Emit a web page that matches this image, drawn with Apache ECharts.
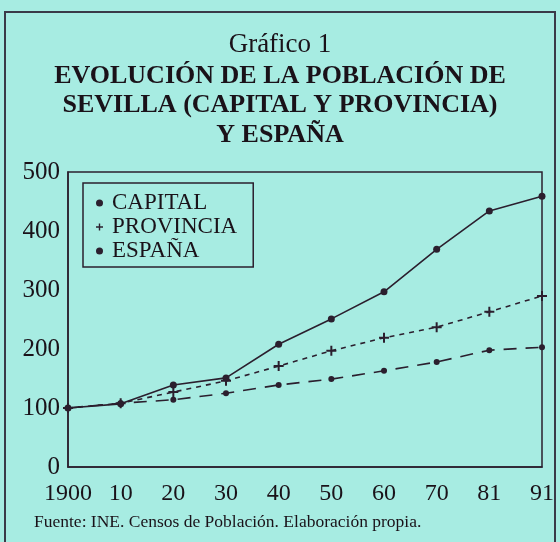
<!DOCTYPE html>
<html>
<head>
<meta charset="utf-8">
<script src="https://cdn.jsdelivr.net/npm/echarts@6/dist/echarts.min.js"></script>
<style>
  html, body { margin: 0; padding: 0; background: #a7ece2; }
  #main { width: 560px; height: 542px; }
</style>
</head>
<body>
<div id="main"></div>
<script>
'use strict'

// años de censo (eje x) y valores índice 1900 = 100
const years = ['1900', '10', '20', '30', '40', '50', '60', '70', '81', '91'];
const capital = [100, 107, 139, 151, 208, 251, 297, 369, 434, 459];
const provincia = [100, 108, 127, 146, 171, 197, 219, 237, 263, 290];
const espana = [100, 108, 114, 125, 139, 149, 163, 178, 198, 203];

const ink = '#2b1f2e';
const textInk = '#1a1219';
const serif = '"Liberation Serif", "DejaVu Serif", serif';
const plus = 'path://M4,0 L6,0 L6,4 L10,4 L10,6 L6,6 L6,10 L4,10 L4,6 L0,6 L0,4 L4,4 Z';

let myChart = echarts.init(document.getElementById('main'));

let boldLine = (text, top) => ({
    text,
    left: 'center',
    top,
    textStyle: { fontFamily: serif, fontSize: 26, fontWeight: 'bold', color: textInk }
});

myChart.setOption({
    backgroundColor: '#a7ece2',
    title: [{
        text: 'Gráfico 1',
        left: 'center',
        top: 26,
        textStyle: { fontFamily: serif, fontSize: 27, fontWeight: 'normal', color: textInk }
    },
    boldLine('EVOLUCIÓN DE LA POBLACIÓN DE', 58),
    boldLine('SEVILLA (CAPITAL Y PROVINCIA)', 87),
    boldLine('Y ESPAÑA', 117),
    {
        text: 'Fuente: INE. Censos de Población. Elaboración propia.',
        left: 29,
        top: 508,
        textStyle: { fontFamily: serif, fontSize: 17.5, fontWeight: 'normal', color: textInk }
    }],
    graphic: [{
        type: 'rect',
        shape: { x: 5, y: 12, width: 550, height: 540 },
        style: { fill: null, stroke: '#3a3a48', lineWidth: 2 },
        silent: true
    }],
    legend: {
        orient: 'vertical',
        left: 83,
        top: 183,
        padding: [8, 16, 4, 13],
        itemGap: 0,
        itemWidth: 7,
        itemHeight: 7,
        borderColor: ink,
        borderWidth: 1.5,
        textStyle: { fontFamily: serif, fontSize: 23, color: textInk, lineHeight: 24, padding: [0, 0, 0, 4] },
        data: [
            { name: 'CAPITAL', icon: 'circle' },
            { name: 'PROVINCIA', icon: plus },
            { name: 'ESPAÑA', icon: 'circle' }
        ]
    },
    grid: {
        left: 68,
        right: 18,
        top: 172,
        bottom: 75,
        show: true,
        borderColor: ink,
        borderWidth: 1.5
    },
    xAxis: {
        type: 'category',
        data: years,
        boundaryGap: false,
        axisLine: { lineStyle: { color: ink, width: 1.5 } },
        axisTick: { show: false },
        axisLabel: { fontFamily: serif, fontSize: 24, color: textInk, margin: 15, interval: 0 }
    },
    yAxis: {
        type: 'value',
        min: 0,
        max: 500,
        interval: 100,
        axisLine: { show: true, lineStyle: { color: ink, width: 1.5 } },
        axisTick: { show: false },
        splitLine: { show: false },
        axisLabel: { fontFamily: serif, fontSize: 25, color: textInk, margin: 8 }
    },
    series: [{
        name: 'CAPITAL',
        type: 'line',
        data: capital,
        symbol: 'circle',
        symbolSize: 7,
        itemStyle: { color: ink },
        lineStyle: { color: ink, width: 1.6, type: 'solid' }
    }, {
        name: 'PROVINCIA',
        type: 'line',
        data: provincia,
        symbol: plus,
        symbolSize: 10,
        itemStyle: { color: ink },
        lineStyle: { color: ink, width: 1.6, type: [5, 5] }
    }, {
        name: 'ESPAÑA',
        type: 'line',
        data: espana,
        symbol: 'circle',
        symbolSize: 6,
        itemStyle: { color: ink },
        lineStyle: { color: ink, width: 1.6, type: [13, 9] }
    }]
});
</script>
</body>
</html>
